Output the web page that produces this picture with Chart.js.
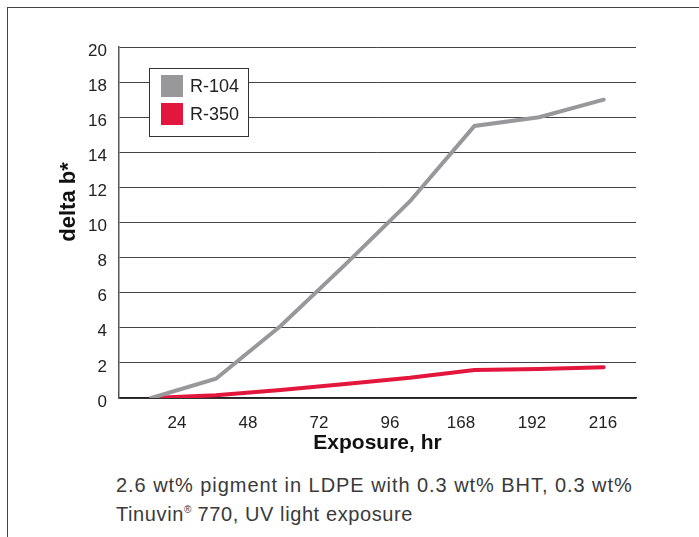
<!DOCTYPE html>
<html>
<head>
<meta charset="utf-8">
<script src="https://cdn.jsdelivr.net/npm/chart.js@4/dist/chart.umd.min.js"></script>
<style>
  body { margin: 0; background: #fff; }
  #wrap { position: relative; width: 699px; height: 537px; overflow: hidden; }
  #frame { position: absolute; left: 7px; top: 7px; right: -2px; bottom: -2px;
           border-left: 1px solid #444; border-top: 1px solid #444; }
  #box { position: absolute; left: 0; top: 0; width: 699px; height: 465px; }
  #caption { position: absolute; left: 116px; top: 471px; font-family: "Liberation Sans", Arial, sans-serif;
             font-size: 20px; letter-spacing: 0.95px; line-height: 29px; color: #3a3a3a; }
  #caption .l2 { letter-spacing: 0.6px; }
  #caption sup { font-size: 10px; vertical-align: 8px; line-height: 0; letter-spacing: 0; }
</style>
</head>
<body>
<div id="wrap">
  <div id="frame"></div>
  <div id="box"><canvas id="myChart"></canvas></div>
  <div id="caption">2.6 wt% pigment in LDPE with 0.3 wt% BHT, 0.3 wt%<br><span class="l2">Tinuvin<sup>®</sup> 770, UV light exposure</span></div>
</div>
<script>
// exposure hours (one point each)
const categories = ['0', '24', '48', '72', '96', '168', '192', '216'];
const r104 = [0, 1.1, 4.1, 7.6, 11.2, 15.5, 16.0, 17.0];
const r350 = [0, 0.15, 0.45, 0.8, 1.15, 1.6, 1.65, 1.75];
// the printed tick labels (they sit a bit off the points in the original)
const tickLabels = ['24', '48', '72', '96', '168', '192', '216'];

const FONT = '"Liberation Sans", Arial, sans-serif';

// legend box + rotated y title drawn on top
const extras = {
  id: 'extras',
  afterDraw(chart) {
    const ctx = chart.ctx;
    ctx.save();
    ctx.fillStyle = '#fff';
    ctx.fillRect(149, 68, 99, 68);
    ctx.strokeStyle = '#333';
    ctx.lineWidth = 1;
    ctx.strokeRect(149.5, 68.5, 99, 68);
    chart.data.datasets.forEach((ds, i) => {
      const y = 75 + i * 28;
      ctx.fillStyle = ds.borderColor;
      ctx.fillRect(161, y, 22, 22);
      ctx.fillStyle = '#222';
      ctx.font = '18px ' + FONT;
      ctx.textBaseline = 'middle';
      ctx.fillText(ds.label, 190, y + 12);
    });

    ctx.translate(69, 202);
    ctx.rotate(-Math.PI / 2);
    ctx.font = 'bold 22px ' + FONT;
    ctx.textAlign = 'center';
    ctx.textBaseline = 'middle';
    ctx.fillStyle = '#111';
    ctx.fillText('delta b*', 0, 0);
    ctx.restore();
  }
};

new Chart(document.getElementById('myChart'), {
  type: 'line',
  data: {
    labels: categories,
    datasets: [
      { label: 'R-104', data: r104, borderColor: '#98989b', backgroundColor: '#98989b',
        borderWidth: 4, pointRadius: 0, tension: 0, borderCapStyle: 'round' },
      { label: 'R-350', data: r350, borderColor: '#e3173d', backgroundColor: '#e3173d',
        borderWidth: 4, pointRadius: 0, tension: 0, borderCapStyle: 'round' }
    ]
  },
  options: {
    responsive: true,
    maintainAspectRatio: false,
    animation: false,
    layout: { padding: { top: 47, right: 63, left: 0, bottom: 0 } },
    plugins: {
      legend: { display: false },
      tooltip: { enabled: false }
    },
    scales: {
      x: {
        type: 'category',
        offset: true,
        grid: { display: false },
        border: { display: true, color: '#222', width: 1.5 },
        ticks: { display: false },
        afterFit: s => { s.height = 0; }
      },
      x2: {
        type: 'linear',
        position: 'bottom',
        min: 0.183,
        max: 7.465,
        grid: { display: false },
        border: { display: false },
        afterBuildTicks: s => { s.ticks = tickLabels.map((_, i) => ({ value: i + 1 })); },
        ticks: {
          padding: 7,
          color: '#222',
          font: { family: FONT, size: 17 },
          callback: v => tickLabels[v - 1]
        },
        title: {
          display: true,
          text: 'Exposure, hr',
          color: '#111',
          font: { family: FONT, size: 21, weight: 'bold' },
          padding: { top: 0, bottom: 9 }
        },
        afterFit: s => { s.height = 67; }
      },
      y: {
        min: 0,
        max: 20,
        grid: { color: '#444', lineWidth: 1, drawTicks: false },
        border: { color: '#555', width: 1.5 },
        ticks: {
          stepSize: 2,
          padding: 12,
          labelOffset: 4,
          color: '#222',
          font: { family: FONT, size: 17 }
        },
        afterFit: s => { s.width = 119; }
      }
    }
  },
  plugins: [extras]
});
</script>
</body>
</html>
